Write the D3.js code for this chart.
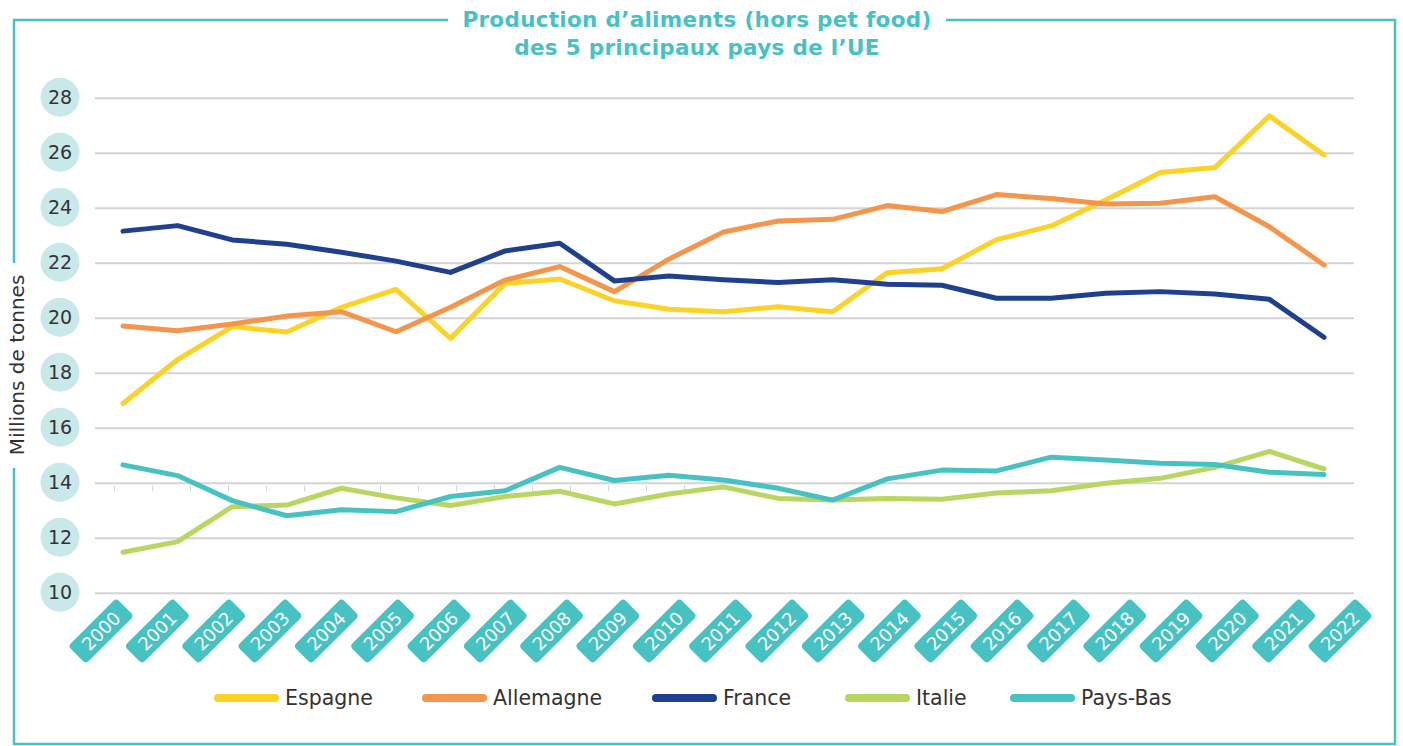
<!DOCTYPE html>
<html>
<head>
<meta charset="utf-8">
<script src="https://cdn.jsdelivr.net/npm/d3@7"></script>
<style>
  body { margin: 0; background: #fff; }
  svg { display: block; font-family: 'DejaVu Sans', sans-serif; }
</style>
</head>
<body>
<div id="chart"></div>
<script>
// data
const years = d3.range(2000, 2023).map(String)
const espagne = [16.9, 18.5, 19.7, 19.5, 20.4, 21.05, 19.27, 21.27, 21.43, 20.64, 20.33, 20.24, 20.42, 20.24, 21.66, 21.8, 22.86, 23.36, 24.3, 25.3, 25.48, 27.36, 25.94]
const allemagne = [19.72, 19.55, 19.79, 20.08, 20.24, 19.51, 20.4, 21.39, 21.88, 20.97, 22.15, 23.14, 23.54, 23.6, 24.1, 23.88, 24.5, 24.36, 24.16, 24.18, 24.42, 23.33, 21.94]
const france = [23.17, 23.37, 22.85, 22.69, 22.4, 22.08, 21.67, 22.45, 22.73, 21.36, 21.54, 21.4, 21.3, 21.4, 21.24, 21.2, 20.73, 20.73, 20.91, 20.97, 20.88, 20.69, 19.31]
const italie = [11.49, 11.88, 13.15, 13.21, 13.82, 13.47, 13.19, 13.52, 13.71, 13.25, 13.61, 13.87, 13.45, 13.39, 13.45, 13.42, 13.65, 13.73, 14.0, 14.18, 14.58, 15.16, 14.52]
const paysBas = [14.67, 14.28, 13.37, 12.82, 13.04, 12.97, 13.52, 13.73, 14.58, 14.1, 14.29, 14.12, 13.82, 13.39, 14.16, 14.48, 14.45, 14.95, 14.85, 14.73, 14.68, 14.4, 14.32]
const yTicks = [10, 12, 14, 16, 18, 20, 22, 24, 26, 28]
const seriesNames = ['Espagne', 'Allemagne', 'France', 'Italie', 'Pays-Bas']
const seriesColors = ['#FDD226', '#F5954B', '#1F3F8F', '#B9D661', '#46C2C3']
const titleLines = ['Production d\u2019aliments (hors pet food)', 'des 5 principaux pays de l\u2019UE']

const series = [espagne, allemagne, france, italie, paysBas]

const W = 1403, H = 746
const teal = '#46C2C3'

const svg = d3.select('#chart').append('svg')
  .attr('width', W)
  .attr('height', H)

// scales
const x = d3.scalePoint().domain(years).range([123, 1324])
const xLab = d3.scalePoint().domain(years).range([101, 1340])
const y = d3.scaleLinear().domain([10, 28]).range([593.3, 98.3])

// frame with gaps for the title and the y title
const frame = d3.path()
frame.moveTo(448, 20); frame.lineTo(14, 20); frame.lineTo(14, 263)
frame.moveTo(14, 468); frame.lineTo(14, 744); frame.lineTo(1395, 744)
frame.lineTo(1395, 20); frame.lineTo(946, 20)
svg.append('path')
  .attr('d', frame.toString())
  .attr('fill', 'none')
  .attr('stroke', teal)
  .attr('stroke-width', 2.5)

// title
svg.append('g')
  .selectAll('text')
  .data(titleLines)
  .join('text')
  .attr('x', 697)
  .attr('y', (d, i) => 27 + i * 28)
  .attr('text-anchor', 'middle')
  .attr('font-size', 21.5)
  .attr('font-weight', 700)
  .attr('letter-spacing', 0.3)
  .attr('fill', teal)
  .text((d) => d)

// y title
svg.append('text')
  .attr('transform', 'translate(24, 365) rotate(-90)')
  .attr('text-anchor', 'middle')
  .attr('font-size', 20)
  .attr('fill', '#333')
  .text('Millions de tonnes')

// gridlines
svg.append('g')
  .selectAll('line')
  .data(yTicks)
  .join('line')
  .attr('x1', 95)
  .attr('x2', 1354)
  .attr('y1', (d) => y(d))
  .attr('y2', (d) => y(d))
  .attr('stroke', '#d4d4d4')
  .attr('stroke-width', 2)

// stray minor ticks under the 14 line
const minor = d3.scaleLinear().domain([0, 15]).range([114, 684])
svg.append('g')
  .attr('transform', `translate(0, ${y(14) + 2})`)
  .call(d3.axisBottom(minor).ticks(15).tickSize(6).tickFormat(''))
  .call((g) => g.select('.domain').remove())
  .selectAll('line')
  .attr('stroke', '#d6d6d6')

// y labels in circles
const yl = svg.append('g')
  .selectAll('g')
  .data(yTicks)
  .join('g')
  .attr('transform', (d) => `translate(60, ${y(d) - 1})`)
yl.append('circle')
  .attr('r', 19.5)
  .attr('fill', '#C9E8EA')
yl.append('text')
  .attr('text-anchor', 'middle')
  .attr('dy', '0.36em')
  .attr('font-size', 19)
  .attr('fill', '#333')
  .text((d) => d)

// x labels in rotated tags
const xl = svg.append('g')
  .selectAll('g')
  .data(years)
  .join('g')
  .attr('transform', (d) => `translate(${xLab(d)}, 631) rotate(-45)`)
xl.append('rect')
  .attr('x', -34)
  .attr('y', -12.5)
  .attr('width', 68)
  .attr('height', 25)
  .attr('rx', 4)
  .attr('fill', teal)
xl.append('text')
  .attr('text-anchor', 'middle')
  .attr('dy', '0.36em')
  .attr('font-size', 18)
  .attr('fill', '#fff')
  .text((d) => d)

// lines
const line = d3.line()
  .x((d, i) => x(years[i]))
  .y((d) => y(d))

svg.append('g')
  .selectAll('path')
  .data(series)
  .join('path')
  .attr('d', (d) => line(d))
  .attr('fill', 'none')
  .attr('stroke', (d, i) => seriesColors[i])
  .attr('stroke-width', 5)
  .attr('stroke-linecap', 'round')
  .attr('stroke-linejoin', 'round')

// legend
const legendX = [218, 426, 656, 849, 1014]
const lg = svg.append('g')
  .selectAll('g')
  .data(seriesNames)
  .join('g')
  .attr('transform', (d, i) => `translate(${legendX[i]}, 698)`)
lg.append('line')
  .attr('x1', 0)
  .attr('x2', 57)
  .attr('stroke', (d, i) => seriesColors[i])
  .attr('stroke-width', 8)
  .attr('stroke-linecap', 'round')
lg.append('text')
  .attr('x', 67)
  .attr('dy', '0.35em')
  .attr('font-size', 20.5)
  .attr('fill', '#333')
  .text((d) => d)
</script>
</body>
</html>
